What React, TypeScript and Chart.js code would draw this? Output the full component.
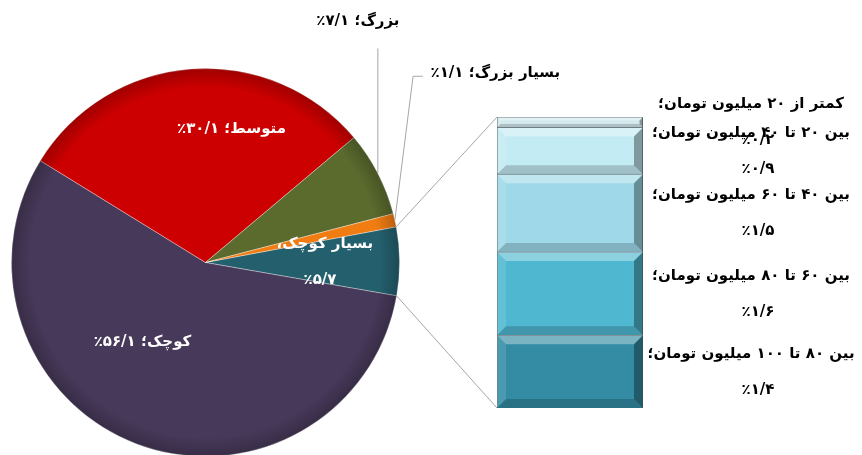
import React, { useEffect, useRef } from "react";
import { Chart, registerables } from "chart.js";

Chart.register(...registerables);

// ---- data ----
const pieLabels = ["بسیار کوچک", "کوچک", "متوسط", "بزرگ", "بسیار بزرگ"];
const pieValues = [5.7, 56.1, 30.1, 7.1, 1.1];
const pieColors = ["#245f6e", "#47395a", "#cc0000", "#5b6b2e", "#f07c12"];

const barLabels = [
  "بین ۸۰ تا ۱۰۰ میلیون تومان؛",
  "بین ۶۰ تا ۸۰ میلیون تومان؛",
  "بین ۴۰ تا ۶۰ میلیون تومان؛",
  "بین ۲۰ تا ۴۰ میلیون تومان؛",
  "کمتر از ۲۰ میلیون تومان؛",
];
const barValues = [1.4, 1.6, 1.5, 0.9, 0.2];
const barColors = ["#338ca4", "#4fb8d0", "#9fd9e9", "#c3ebf3", "#d3e9ee"];

const FONT = "'DejaVu Sans', sans-serif";

const fa = (v: number) =>
  v
    .toFixed(1)
    .replace(".", "/")
    .replace(/\d/g, (d) => "۰۱۲۳۴۵۶۷۸۹"[+d]);

export default function App() {
  const pieRef = useRef<HTMLCanvasElement>(null);
  const barRef = useRef<HTMLCanvasElement>(null);

  useEffect(() => {
    document.body.style.margin = "0";

    const pieLabelPlugin = {
      id: "pieLabels",
      afterDatasetsDraw(chart: any) {
        const ctx = chart.ctx as CanvasRenderingContext2D;
        const a0 = chart.getDatasetMeta(0).data[0] as any;
        const R = a0.outerRadius;
        ctx.save();
        const g = ctx.createRadialGradient(a0.x, a0.y, R * 0.9, a0.x, a0.y, R);
        g.addColorStop(0, "rgba(0,0,0,0)");
        g.addColorStop(1, "rgba(0,0,0,0.22)");
        ctx.beginPath();
        ctx.arc(a0.x, a0.y, R, 0, Math.PI * 2);
        ctx.arc(a0.x, a0.y, R * 0.9, 0, Math.PI * 2, true);
        ctx.fillStyle = g;
        ctx.fill();
        ctx.restore();
      },
      afterDraw(chart: any) {
        const ctx = chart.ctx as CanvasRenderingContext2D;
        const arcs = chart.getDatasetMeta(0).data as any[];
        const a0 = arcs[0];
        const cx = a0.x;
        const cy = a0.y;
        const R = a0.outerRadius;
        ctx.save();
        ctx.direction = "rtl";
        ctx.textBaseline = "middle";
        ctx.font = `bold 15px ${FONT}`;

        const mid = (a: any) => (a.startAngle + a.endAngle) / 2;
        const pt = (a: any, r: number) => [cx + r * Math.cos(mid(a)), cy + r * Math.sin(mid(a))];

        // inside labels (white)
        ctx.fillStyle = "#ffffff";
        ctx.textAlign = "center";
        ctx.fillText(`${pieLabels[2]}؛ ${fa(pieValues[2])}٪`, cx + 0.134 * R, cy - 0.686 * R);
        ctx.fillText(`${pieLabels[1]}؛ ${fa(pieValues[1])}٪`, cx - 0.325 * R, cy + 0.41 * R);
        ctx.fillText(`${pieLabels[0]}،`, cx + 0.615 * R, cy - 0.095 * R);
        ctx.fillText(`٪${fa(pieValues[0])}`, cx + 0.59 * R, cy + 0.09 * R);

        // outside labels with leader lines
        ctx.strokeStyle = "#a6a6a6";
        ctx.lineWidth = 1;
        const [gx, gy] = pt(arcs[3], R);
        ctx.beginPath();
        ctx.moveTo(gx, gy);
        ctx.lineTo(gx, cy - 1.103 * R);
        ctx.stroke();
        ctx.fillStyle = "#000000";
        ctx.textAlign = "center";
        ctx.fillText(`${pieLabels[3]}؛ ${fa(pieValues[3])}٪`, cx + 0.785 * R, cy - 1.245 * R);
        const [ox, oy] = pt(arcs[4], R);
        ctx.beginPath();
        ctx.moveTo(ox, oy);
        ctx.lineTo(cx + 1.07 * R, cy - 0.96 * R);
        ctx.lineTo(cx + 1.12 * R, cy - 0.96 * R);
        ctx.stroke();
        ctx.textAlign = "left";
        ctx.fillText(`${pieLabels[4]}؛ ${fa(pieValues[4])}٪`, cx + 1.16 * R, cy - 0.975 * R);
        ctx.restore();
      },
    };

    const pie = new Chart(pieRef.current!, {
      type: "pie",
      data: {
        labels: pieLabels,
        datasets: [
          {
            data: pieValues,
            backgroundColor: pieColors,
            borderColor: "rgba(255,255,255,0.35)",
            borderWidth: 1,
          },
        ],
      },
      options: {
        responsive: false,
        animation: false,
        rotation: 79.4,
        layout: { padding: { left: 11, top: 68, right: 462, bottom: 3 } },
        plugins: { legend: { display: false }, tooltip: { enabled: false } },
      },
      plugins: [pieLabelPlugin],
    } as any);

    const barPlugin = {
      id: "barDecor",
      afterDatasetsDraw(chart: any) {
        const ctx = chart.ctx as CanvasRenderingContext2D;
        ctx.save();
        chart.data.datasets.forEach((_: any, i: number) => {
          const el = chart.getDatasetMeta(i).data[0] as any;
          const l = el.x - el.width / 2;
          const r = el.x + el.width / 2;
          const t = Math.min(el.y, el.base);
          const b = Math.max(el.y, el.base);
          const bv = Math.min(9, (b - t) / 3);
          const poly = (pts: number[][], fill: string) => {
            ctx.beginPath();
            ctx.moveTo(pts[0][0], pts[0][1]);
            for (let k = 1; k < pts.length; k++) ctx.lineTo(pts[k][0], pts[k][1]);
            ctx.closePath();
            ctx.fillStyle = fill;
            ctx.fill();
          };
          poly([[l, t], [r, t], [r - bv, t + bv], [l + bv, t + bv]], "rgba(255,255,255,0.35)");
          poly([[l, b], [r, b], [r - bv, b - bv], [l + bv, b - bv]], "rgba(0,0,0,0.18)");
          poly([[l, t], [l + bv, t + bv], [l + bv, b - bv], [l, b]], "rgba(255,255,255,0.12)");
          poly([[r, t], [r - bv, t + bv], [r - bv, b - bv], [r, b]], "rgba(0,0,0,0.35)");
        });
        ctx.restore();
      },
      afterDraw(chart: any) {
        const ctx = chart.ctx as CanvasRenderingContext2D;
        const n = chart.data.datasets.length;
        const first = chart.getDatasetMeta(0).data[0] as any;
        const last = chart.getDatasetMeta(n - 1).data[0] as any;
        const barLeft = first.x - first.width / 2;
        const barRight = first.x + first.width / 2;

        const a = pie.getDatasetMeta(0).data[0] as any;
        ctx.save();
        ctx.strokeStyle = "#a6a6a6";
        ctx.lineWidth = 1;
        ctx.beginPath();
        ctx.moveTo(a.x + a.outerRadius * Math.cos(a.startAngle), a.y + a.outerRadius * Math.sin(a.startAngle));
        ctx.lineTo(barLeft, Math.min(last.y, last.base));
        ctx.moveTo(a.x + a.outerRadius * Math.cos(a.endAngle), a.y + a.outerRadius * Math.sin(a.endAngle));
        ctx.lineTo(barLeft, Math.max(first.y, first.base));
        ctx.stroke();

        ctx.direction = "rtl";
        ctx.textAlign = "center";
        ctx.textBaseline = "middle";
        ctx.fillStyle = "#000000";
        ctx.font = `bold 15px ${FONT}`;
        const lx = barRight + 108;
        for (let i = 0; i < n; i++) {
          const el = chart.getDatasetMeta(i).data[0] as any;
          const cy = (el.y + el.base) / 2;
          ctx.fillText(barLabels[i], lx, cy - 18);
          ctx.fillText(`٪${fa(barValues[i])}`, lx + 7, cy + 18);
        }
        ctx.restore();
      },
    };

    const total = barValues.reduce((s, v) => s + v, 0);
    const bar = new Chart(barRef.current!, {
      type: "bar",
      data: {
        labels: [""],
        datasets: barValues.map((v, i) => ({
          label: barLabels[i],
          data: [v],
          backgroundColor: barColors[i],
          borderColor: "#5d7378",
          borderWidth: 1,
          barPercentage: 1,
          categoryPercentage: 1,
        })),
      },
      options: {
        responsive: false,
        animation: false,
        layout: { padding: { left: 497, right: 219, top: 117, bottom: 47 } },
        scales: {
          x: { stacked: true, display: false },
          y: { stacked: true, display: false, min: 0, max: total },
        },
        plugins: { legend: { display: false }, tooltip: { enabled: false } },
      },
      plugins: [barPlugin],
    } as any);

    return () => {
      bar.destroy();
      pie.destroy();
    };
  }, []);

  return (
    <div style={{ position: "relative", width: 862, height: 455, overflow: "hidden", background: "#ffffff" }}>
      <canvas ref={pieRef} width={862} height={460} style={{ position: "absolute", left: 0, top: 0 }} />
      <canvas ref={barRef} width={862} height={455} style={{ position: "absolute", left: 0, top: 0 }} />
    </div>
  );
}
